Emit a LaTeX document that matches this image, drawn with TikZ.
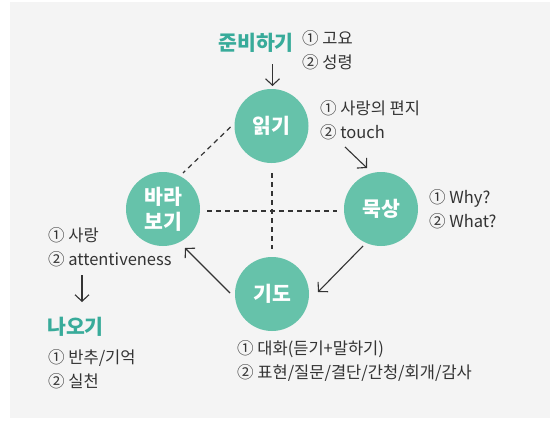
\documentclass[tikz,border=0pt]{standalone}
\usepackage{fontspec}
\setmainfont{Noto Sans CJK KR}
\usetikzlibrary{arrows.meta,calc}
\definecolor{bgc}{HTML}{F4F4F4}
\definecolor{circc}{HTML}{66C2AA}
\definecolor{tealt}{HTML}{38AB9A}
\definecolor{txt}{HTML}{333333}
\begin{document}
\begin{tikzpicture}[x=1pt,y=-1pt,
  circ/.style={circle, fill=circc, minimum size=74pt, inner sep=0pt, text=white,
    font=\fontsize{20.5}{25}\selectfont\bfseries, align=center},
  note/.style={anchor=west, inner sep=0pt, align=left, text=txt,
    font=\fontsize{16.5}{23.5}\selectfont},
  titletext/.style={inner sep=0pt, text=tealt, font=\fontsize{20.5}{24}\selectfont\bfseries},
  arr/.style={draw=txt, line width=1.1pt, -{Straight Barb[length=6.5pt,width=14pt,line width=1.1pt]}},
  dsh/.style={draw=txt, line width=1.2pt, dash pattern=on 5pt off 4pt}]
\useasboundingbox (0,0) rectangle (556,423);
\fill[bgc] (10,2) rectangle (550,418);

% circles
\node[circ] (ilgi) at (271.5,126) {읽기};
\node[circ] (muk) at (381,209) {묵상};
\node[circ] (bara) at (163,209) {바라\\보기};
\node[circ] (gido) at (272,294) {기도};

% titles
\node[titletext] (prep) at (256,43) {준비하기};
\node[titletext, anchor=west] (naogi) at (47,327) {나오기};

% notes
\node[note] (prepnote) at (302,50) {① 고요\\② 성령};
\node[note] (ilginote) at (320,120) {① 사랑의 편지\\② touch};
\node[note] (muknote) at (429,209) {① Why?\\② What?};
\node[note] (baranote) at (48,247) {① 사랑\\② attentiveness};
\node[note] (naonote) at (48,369) {① 반추/기억\\② 실천};
\node[note] (gidonote) at (237,361) {① 대화(듣기+말하기)\\② 표현/질문/결단/간청/회개/감사};

% dashed lines
\draw[dsh] ($(ilgi)+(-41,1)$) -- ($(bara)+(20,-36)$);
\draw[dsh] ($(bara)+(44,2)$) -- ($(muk)+(-44,2)$);
\draw[dsh] ($(ilgi)+(0.5,47)$) -- ($(gido)+(0,-45)$);

% arrows
\draw[arr] ($(ilgi)+(1,-62)$) -- ($(ilgi)+(1,-40)$);
\draw[arr] ($(ilgi)+(73.5,21)$) -- ($(muk)+(-14,-41)$);
\draw[arr] ($(muk)+(-18,37)$) -- ($(gido)+(46,-2)$);
\draw[arr] ($(gido)+(-42,-1)$) -- ($(bara)+(22,39)$);
\draw[arr] ($(naogi.west)+(35,-52)$) -- ($(naogi.west)+(35,-25)$);
\end{tikzpicture}
\end{document}
